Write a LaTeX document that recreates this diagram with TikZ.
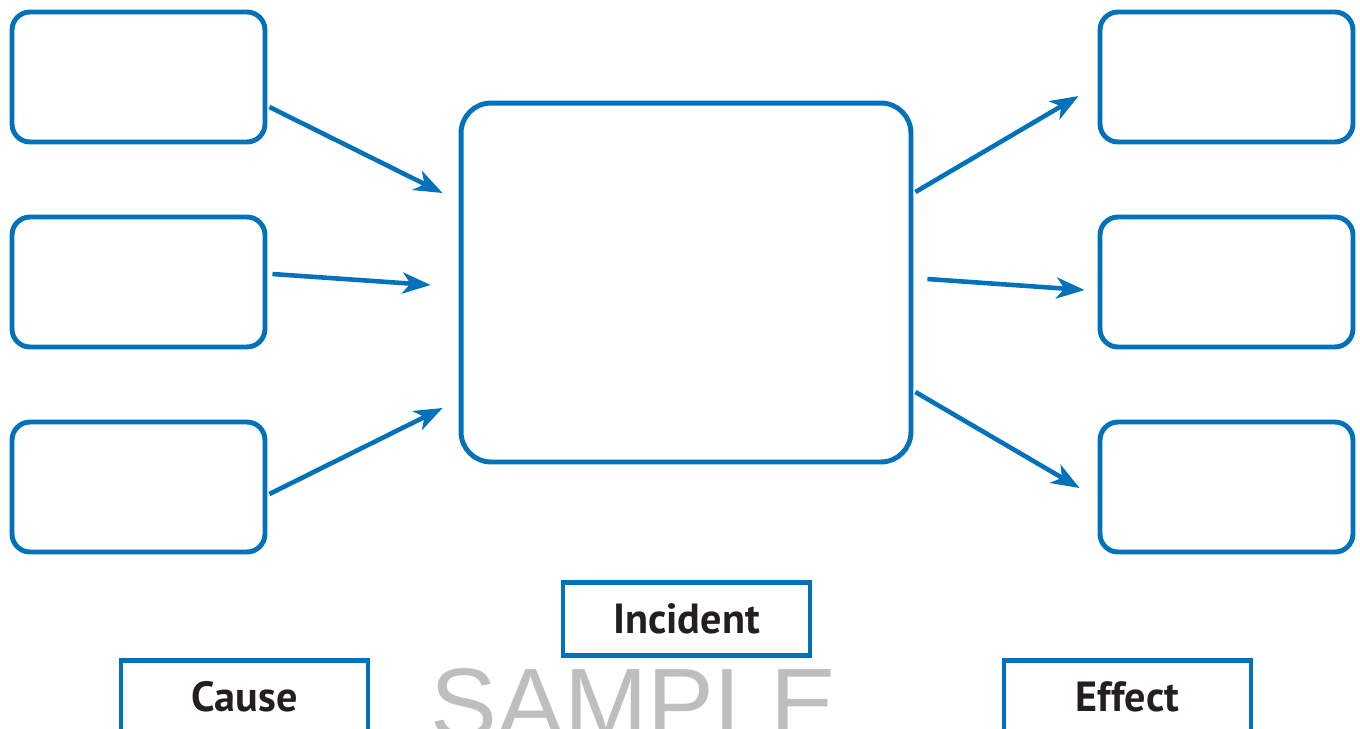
\documentclass[tikz,border=0pt]{standalone}
\usepackage{fontspec}
\setmainfont{PT Sans}
\newfontfamily\marksans{Liberation Sans}
\usetikzlibrary{arrows.meta}
\definecolor{chartblue}{RGB}{0,114,188}
\definecolor{markgray}{RGB}{190,190,190}
\definecolor{labelink}{RGB}{35,31,32}

\begin{document}
\begin{tikzpicture}[x=0.02cm, y=-0.02cm,
    smallbox/.style={draw=chartblue, line width=2.8pt, rounded corners=0.36cm,
        minimum width=5.06cm, minimum height=2.6cm},
    bigbox/.style={draw=chartblue, line width=2.8pt, rounded corners=0.6cm,
        minimum width=9cm, minimum height=7.18cm},
    labelbox/.style={draw=chartblue, line width=2.8pt, minimum width=4.94cm,
        minimum height=1.46cm, text=labelink,
        font=\bfseries\fontsize{24}{28}\selectfont},
    arr/.style={draw=chartblue, line width=2.6pt,
        -{Stealth[length=16pt, width=12pt, inset=4.5pt]}}]

        % Page frame, bottom row is cut off
        \useasboundingbox (0,0) rectangle (1360,728);
        \clip (0,0) rectangle (1360,728);

        % Cause boxes on the left
        \node[smallbox] (cause1) at (138.5,77) {};
        \node[smallbox] (cause2) at (138.5,282) {};
        \node[smallbox] (cause3) at (138.5,487) {};

        % Incident box in the middle
        \node[bigbox] (incident) at (686,282.5) {};

        % Effect boxes on the right
        \node[smallbox] (effect1) at (1226.5,77) {};
        \node[smallbox] (effect2) at (1226.5,282) {};
        \node[smallbox] (effect3) at (1226.5,487) {};

        % Arrow ends in front of the boxes
        \coordinate (in1) at ([shift={(-16,-89.5)}]incident.west);
        \coordinate (in2) at ([shift={(-28,2.5)}]incident.west);
        \coordinate (in3) at ([shift={(-16,125.5)}]incident.west);
        \coordinate (out1) at ([shift={(-19,19)}]effect1.west);
        \coordinate (out2) at ([shift={(-13,8)}]effect2.west);
        \coordinate (out3) at ([shift={(-18,1)}]effect3.west);

        % Causes lead into the incident
        \draw[arr] ([shift={(2,30)}]cause1.east) -- (in1);
        \draw[arr] ([shift={(5,-8)}]cause2.east) -- (in2);
        \draw[arr] ([shift={(2,7)}]cause3.east) -- (in3);

        % Incident leads out to the effects
        \draw[arr] ([shift={(2,-90.5)}]incident.east) -- (out1);
        \draw[arr] ([shift={(14,-3.5)}]incident.east) -- (out2);
        \draw[arr] ([shift={(2,109.5)}]incident.east) -- (out3);

        % Watermark
        \node[anchor=north, inner sep=0, text=markgray,
            font=\marksans\fontsize{57}{60}\selectfont] (mark) at (634,668) {SAMPLE};

        % Column labels
        \node[labelbox] (incidentlabel) at (686.5,619) {Incident};
        \node[labelbox] (causelabel) at (244.5,697) {Cause};
        \node[labelbox] (effectlabel) at (1127.5,697) {Effect};
    \end{tikzpicture}
\end{document}
